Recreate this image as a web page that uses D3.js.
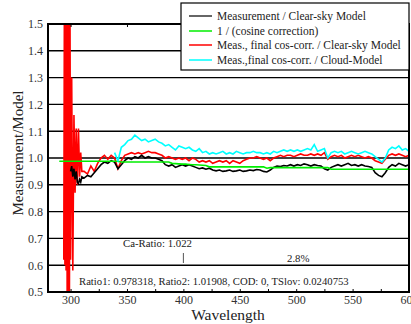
<!DOCTYPE html>
<html>
<head>
<meta charset="utf-8">
<script src="https://cdn.jsdelivr.net/npm/d3@7"></script>
<style>
  body { margin: 0; background: #fff; }
  svg text { font-family: "Liberation Serif", "Times New Roman", "DejaVu Serif", serif; }
</style>
</head>
<body>
<div id="chart"></div>
<script>
// wavelength grid (nm): finer steps in the UV spike, 3 nm afterwards
const wavelengths = [
  290, 291, 292, 293, 294, 294.5, 295, 295.5, 296, 296.5, 297, 297.5, 298, 298.5, 299, 299.5, 300, 301, 302, 303, 304, 305, 306, 307, 308, 309, 310,
  312, 315, 318, 321, 324, 327, 330, 333, 336, 339, 342, 345, 348, 351, 354, 357, 360, 363, 366, 369,
  372, 375, 378, 381, 384, 387, 390, 393, 396, 399, 402, 405, 408, 411, 414, 417, 420, 423, 426, 429,
  432, 435, 438, 441, 444, 447, 450, 453, 456, 459, 462, 465, 468, 471, 474, 477, 480, 483, 486, 489,
  492, 495, 498, 501, 504, 507, 510, 513, 516, 519, 522, 525, 528, 531, 534, 537, 540, 543, 546, 549,
  552, 555, 558, 561, 564, 567, 570, 573, 576, 579, 582, 585, 588, 591, 594, 597, 600
];

const measClear = [
  null, null, null, null, null, null, null, null, null, null, null, null, null, null, null, null, 0.95, 0.97, 0.93, 0.96, 0.92, 0.95, 0.91, 0.905, 0.92, 0.91, 0.93,
  0.925, 0.935, 0.93, 0.945, 0.96, 0.975, 0.985, 0.98, 0.99, 0.985, 0.96, 0.975, 0.99, 1.0, 0.995, 1.005, 1.0, 1.01, 1.0, 1.005,
  1.0, 1.0, 0.995, 0.99, 0.975, 0.97, 0.975, 0.965, 0.97, 0.975, 0.97, 0.975, 0.97, 0.965, 0.96, 0.963, 0.958, 0.962, 0.955, 0.952,
  0.955, 0.95, 0.952, 0.955, 0.95, 0.952, 0.955, 0.95, 0.952, 0.955, 0.953, 0.957, 0.955, 0.95, 0.948, 0.955, 0.965, 0.97, 0.968, 0.972,
  0.97, 0.975, 0.97, 0.975, 0.972, 0.978, 0.975, 0.97, 0.975, 0.972, 0.97, 0.96, 0.955, 0.965, 0.97, 0.975, 0.97, 0.975, 0.98, 0.972,
  0.975, 0.97, 0.975, 0.97, 0.968, 0.965, 0.945, 0.935, 0.93, 0.945, 0.965, 0.975, 0.97, 0.98, 0.975, 0.97, 0.975
];

const cosineCorr = [
  0.988, 0.988, 0.988, 0.988, 0.988, 0.988, 0.988, 0.988, 0.988, 0.988, 0.988, 0.988, 0.988, 0.988, 0.988, 0.988, 0.988, 0.988, 0.988, 0.988, 0.988, 0.988, 0.988, 0.988, 0.988, 0.988, 0.988,
  0.988, 0.988, 0.988, 0.988, 0.988, 0.988, 0.988, 0.988, 0.988, 0.988, 0.988, 0.985, 0.985, 0.985, 0.985, 0.985, 0.985, 0.985, 0.985, 0.985,
  0.985, 0.985, 0.985, 0.985, 0.985, 0.985, 0.98, 0.979, 0.978, 0.977, 0.977, 0.976, 0.975, 0.975, 0.974, 0.973, 0.972, 0.967, 0.967, 0.967,
  0.967, 0.967, 0.967, 0.967, 0.967, 0.967, 0.967, 0.967, 0.967, 0.967, 0.967, 0.967, 0.967, 0.967, 0.962, 0.964, 0.964, 0.964, 0.964, 0.964,
  0.964, 0.964, 0.964, 0.964, 0.964, 0.964, 0.964, 0.964, 0.964, 0.964, 0.964, 0.964, 0.964, 0.958, 0.958, 0.958, 0.958, 0.958, 0.958, 0.958,
  0.958, 0.958, 0.958, 0.958, 0.958, 0.958, 0.958, 0.958, 0.958, 0.958, 0.958, 0.958, 0.958, 0.958, 0.958, 0.958, 0.958
];

const finalClear = [
  null, null, null, null, 0.62, 1.55, 0.6, 1.55, 0.58, 1.55, 0.45, 1.55, 0.45, 1.55, 0.5, 1.55, 0.62, 1.3, 0.58, 1.16, 0.87, 1.11, 0.9, 1.11, 0.93, 1.02, 0.95,
  0.95, 0.94, 0.97, 0.95, 0.98, 1.0, 1.01, 0.995, 1.01, 1.0, 0.96, 0.99, 1.01, 1.015, 1.02, 1.015, 1.02, 1.015, 1.02, 1.025,
  1.02, 1.02, 1.015, 1.01, 1.0, 1.005, 1.0, 0.995, 1.0, 0.995, 1.0, 0.99, 1.0, 0.995, 0.985, 0.99, 0.985, 0.99, 0.98, 0.985,
  0.99, 0.985, 0.99, 0.98, 0.99, 0.985, 0.98, 0.99, 0.995, 1.0, 1.0, 1.005, 1.0, 0.995, 1.0, 0.99, 1.0, 1.005, 1.01, 1.005,
  1.01, 1.01, 1.005, 1.01, 1.015, 1.01, 1.01, 1.015, 1.01, 1.015, 1.01, 1.02, 0.995, 1.005, 1.01, 1.005, 1.01, 1.0, 1.005, 1.01,
  1.005, 1.01, 1.005, 1.0, 1.005, 1.0, 0.99, 0.985, 0.98, 0.995, 1.01, 1.015, 1.01, 1.015, 1.01, 1.005, 1.01
];

const finalCloud = [
  null, null, null, null, null, null, null, null, null, null, null, null, null, null, null, null, null, null, null, null, null, null, null, null, null, null, null,
  null, null, null, null, null, null, null, null, null, 1.02, 0.99, 1.04, 1.05, 1.065, 1.07, 1.085, 1.075, 1.065, 1.07, 1.06,
  1.065, 1.07, 1.06, 1.055, 1.045, 1.05, 1.04, 1.03, 1.045, 1.04, 1.035, 1.04, 1.03, 1.025, 1.035, 1.02, 1.025, 1.015, 1.02, 1.015,
  1.02, 1.025, 1.015, 1.02, 1.015, 1.025, 1.02, 1.015, 1.02, 1.02, 1.025, 1.02, 1.02, 1.015, 1.02, 1.015, 1.025, 1.02, 1.025, 1.03,
  1.025, 1.03, 1.025, 1.03, 1.025, 1.03, 1.035, 1.03, 1.05, 1.025, 1.03, 1.035, 1.0, 1.02, 1.025, 1.02, 1.025, 1.015, 1.02, 1.025,
  1.02, 1.015, 1.02, 1.025, 1.02, 1.015, 1.005, 0.995, 0.985, 1.0, 1.03, 1.04, 1.035, 1.045, 1.03, 1.035, 1.025
];

const seriesNames = [
  "Measurement / Clear-sky Model",
  "1 / (cosine correction)",
  "Meas., final cos-corr. / Clear-sky Model",
  "Meas.,final cos-corr. / Cloud-Model"
];
const seriesColors = ["#000000", "#00ee00", "#ff0000", "#00ffff"];

const xTicks = [300, 350, 400, 450, 500, 550, 600];
const yTicks = [0.5, 0.6, 0.7, 0.8, 0.9, 1.0, 1.1, 1.2, 1.3, 1.4, 1.5];

const serif = "'Liberation Serif', 'Times New Roman', serif";
const width = 411, height = 324;
const margin = { top: 24, right: 2, bottom: 32, left: 48 };
const innerW = width - margin.left - margin.right;
const innerH = height - margin.top - margin.bottom;

const svg = d3.select("#chart").append("svg")
  .attr("width", width)
  .attr("height", height)
  .attr("font-family", serif);

const g = svg.append("g")
  .attr("transform", `translate(${margin.left},${margin.top})`);

const x = d3.scaleLinear().domain([280, 600]).range([0, innerW]);
const y = d3.scaleLinear().domain([0.5, 1.5]).range([innerH, 0]);

svg.append("defs").append("clipPath").attr("id", "plot-clip")
  .append("rect").attr("width", innerW).attr("height", innerH);

// horizontal grid lines
g.append("g")
  .selectAll("line")
  .data(yTicks.slice(1, -1))
  .enter().append("line")
  .attr("x1", 0).attr("x2", innerW)
  .attr("y1", d => y(d)).attr("y2", d => y(d))
  .attr("stroke", "#000").attr("stroke-width", 1.4);

// series (drawing order so cyan sits on top)
const series = [
  { values: finalClear, color: seriesColors[2], w: 1.6 },
  { values: measClear, color: seriesColors[0], w: 1.6 },
  { values: cosineCorr, color: seriesColors[1], w: 1.6 },
  { values: finalCloud, color: seriesColors[3], w: 1.6 }
];

const line = d3.line()
  .defined(d => d[1] != null)
  .x(d => x(d[0]))
  .y(d => y(d[1]));

const plot = g.append("g").attr("clip-path", "url(#plot-clip)");
series.forEach(s => {
  plot.append("path")
    .datum(wavelengths.map((w, i) => [w, s.values[i]]))
    .attr("fill", "none")
    .attr("stroke", s.color)
    .attr("stroke-width", s.w)
    .attr("d", line);
});

// frame
g.append("rect")
  .attr("width", innerW).attr("height", innerH)
  .attr("fill", "none").attr("stroke", "#000").attr("stroke-width", 2);

// x axis: labels every 50, inward ticks every 25 (bottom and top)
const xAxis = g.append("g")
  .attr("transform", `translate(0,${innerH})`)
  .call(d3.axisBottom(x).tickValues(d3.range(300, 601, 25)).tickSize(-3)
    .tickFormat(d => xTicks.includes(d) ? d : ""));
xAxis.select(".domain").remove();
xAxis.attr("font-family", serif);
xAxis.selectAll("text")
  .attr("dy", null)
  .attr("y", 12)
  .attr("font-size", 12)
  .attr("fill", "#333");

const xTop = g.append("g")
  .call(d3.axisTop(x).tickValues(xTicks).tickSize(-3).tickFormat(""));
xTop.select(".domain").remove();

// y axis labels
const yAxis = g.append("g")
  .call(d3.axisLeft(y).tickValues(yTicks).tickSize(0).tickPadding(5)
    .tickFormat(d3.format(".1f")));
yAxis.select(".domain").remove();
yAxis.attr("font-family", serif);
yAxis.selectAll("text")
  .attr("font-size", 12)
  .attr("fill", "#333");

// axis titles
svg.append("text")
  .attr("x", 228).attr("y", 320)
  .attr("text-anchor", "middle")
  .attr("font-size", 15.5)
  .attr("fill", "#222")
  .text("Wavelength");

svg.append("text")
  .attr("transform", "translate(23,153) rotate(-90)")
  .attr("text-anchor", "middle")
  .attr("font-size", 15)
  .attr("fill", "#222")
  .text("Measurement/Model");

// annotations
svg.append("text").attr("x", 123).attr("y", 247)
  .attr("font-size", 10.8).attr("fill", "#222")
  .text("Ca-Ratio: 1.022");
g.append("line")
  .attr("x1", x(400)).attr("x2", x(400))
  .attr("y1", 253 - margin.top).attr("y2", 263 - margin.top)
  .attr("stroke", "#555").attr("stroke-width", 1);
svg.append("text").attr("x", 287).attr("y", 262)
  .attr("font-size", 10.8).attr("fill", "#222")
  .text("2.8%");
svg.append("text").attr("x", 79).attr("y", 285)
  .attr("font-size", 10.7).attr("fill", "#222")
  .text("Ratio1: 0.978318, Ratio2: 1.01908, COD: 0, TSlov: 0.0240753");

// legend
const legend = svg.append("g");
legend.append("rect")
  .attr("x", 181).attr("y", 3)
  .attr("width", 228).attr("height", 67)
  .attr("fill", "#fff").attr("stroke", "#000").attr("stroke-width", 1.2);

const rowY = [16, 31, 45, 60];
seriesNames.forEach((name, i) => {
  legend.append("line")
    .attr("x1", 189).attr("x2", 212)
    .attr("y1", rowY[i]).attr("y2", rowY[i])
    .attr("stroke", i === 0 ? "#333" : seriesColors[i]).attr("stroke-width", 1.5);
  legend.append("text")
    .attr("x", 217).attr("y", rowY[i] + 4)
    .attr("font-size", 11.5).attr("fill", "#222")
    .text(name);
});
</script>
</body>
</html>
